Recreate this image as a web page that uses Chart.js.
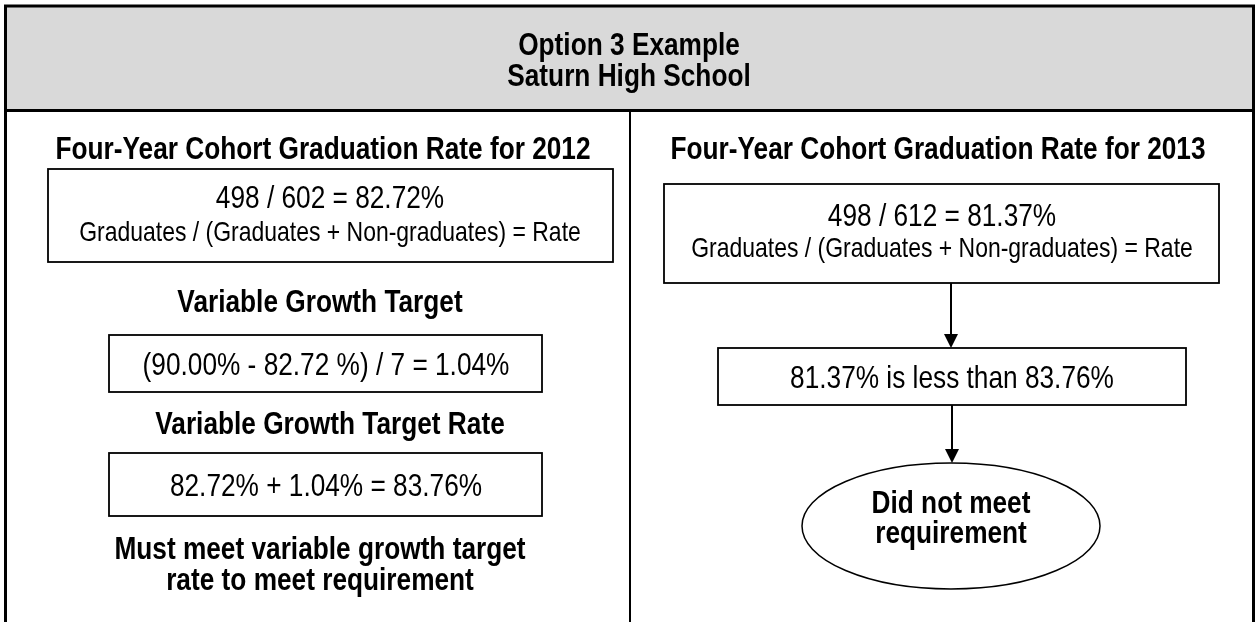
<!DOCTYPE html>
<html lang="en">
<head>
<meta charset="UTF-8">
<title>Option 3 Example</title>
<script src="https://cdn.jsdelivr.net/npm/chart.js"></script>
<style>
  html, body { margin: 0; padding: 0; background: #fff; }
  #wrap { width: 1255px; height: 622px; }
</style>
</head>
<body>
<div id="wrap"><canvas id="diagram" width="1255" height="622"></canvas></div>
<script>
// texts of the diagram
const titleLines = ['Option 3 Example', 'Saturn High School'];
const leftHeadings = ['Four-Year Cohort Graduation Rate for 2012', 'Variable Growth Target', 'Variable Growth Target Rate'];
const leftFormulas = ['498 / 602 = 82.72%', '(90.00% - 82.72 %) / 7 = 1.04%', '82.72% + 1.04% = 83.76%'];
const formulaCaption = 'Graduates / (Graduates + Non-graduates) = Rate';
const leftNote = ['Must meet variable growth target', 'rate to meet requirement'];
const rightHeading = 'Four-Year Cohort Graduation Rate for 2013';
const rightFormulas = ['498 / 612 = 81.37%', '81.37% is less than 83.76%'];
const outcome = ['Did not meet', 'requirement'];

// styles of text (narrow face made by squeezing Liberation Sans)
const FONT = "'Liberation Sans', Arial, sans-serif";
const styles = {
  heading: { font: 'bold 32px ' + FONT, sx: 0.82 },
  formula: { font: '32px ' + FONT, sx: 0.82 },
  caption: { font: '28px ' + FONT, sx: 0.82 }
};

// layout, in diagram units (the scales run 0..1255 and 0..622)
const layout = {
  header: { x1: 4, y1: 5, x2: 1255, y2: 111 },
  divider: 630,
  titleX: 629, titleY: [55, 86],
  box1: { x1: 48, y1: 169, x2: 613, y2: 262 },
  box2: { x1: 109, y1: 335, x2: 542, y2: 392 },
  box3: { x1: 109, y1: 453, x2: 542, y2: 516 },
  boxA: { x1: 664, y1: 184, x2: 1219, y2: 283 },
  boxB: { x1: 718, y1: 348, x2: 1186, y2: 405 },
  ellipse: { cx: 951, cy: 526, rx: 149, ry: 63 }
};

function buildItems() {
  const L = layout;
  const texts = [];
  titleLines.forEach((t, i) => texts.push({ t, x: L.titleX, y: L.titleY[i], s: 'heading' }));
  texts.push({ t: leftHeadings[0], x: 323, y: 159, s: 'heading' });
  texts.push({ t: leftFormulas[0], x: 330, y: 208, s: 'formula' });
  texts.push({ t: formulaCaption, x: 330, y: 241, s: 'caption' });
  texts.push({ t: leftHeadings[1], x: 320, y: 312, s: 'heading' });
  texts.push({ t: leftFormulas[1], x: 326, y: 375, s: 'formula' });
  texts.push({ t: leftHeadings[2], x: 330, y: 434, s: 'heading' });
  texts.push({ t: leftFormulas[2], x: 326, y: 496, s: 'formula' });
  leftNote.forEach((t, i) => texts.push({ t, x: 320, y: 559 + i * 31, s: 'heading' }));
  texts.push({ t: rightHeading, x: 938, y: 159, s: 'heading' });
  texts.push({ t: rightFormulas[0], x: 942, y: 226, s: 'formula' });
  texts.push({ t: formulaCaption, x: 942, y: 257, s: 'caption' });
  texts.push({ t: rightFormulas[1], x: 952, y: 388, s: 'formula' });
  outcome.forEach((t, i) => texts.push({ t, x: 951, y: 513 + i * 30, s: 'heading' }));
  return texts;
}

const diagramPlugin = {
  id: 'diagram',
  afterDraw(chart) {
    const ctx = chart.ctx;
    const xs = chart.scales.x, ys = chart.scales.y;
    const px = v => xs.getPixelForValue(v);
    const py = v => ys.getPixelForValue(v);
    const L = layout;
    ctx.save();

    // header band
    const h = L.header;
    ctx.fillStyle = '#d9d9d9';
    ctx.fillRect(px(h.x1), py(h.y1), px(h.x2) - px(h.x1), py(h.y2) - py(h.y1));

    // frame (open at the bottom)
    ctx.strokeStyle = '#000';
    ctx.lineWidth = 3;
    ctx.beginPath();
    ctx.moveTo(px(5.5), py(622));
    ctx.lineTo(px(5.5), py(6));
    ctx.lineTo(px(1253.5), py(6));
    ctx.lineTo(px(1253.5), py(622));
    ctx.stroke();
    ctx.beginPath();
    ctx.moveTo(px(4), py(110.5));
    ctx.lineTo(px(1255), py(110.5));
    ctx.stroke();

    // column divider
    ctx.lineWidth = 2;
    ctx.beginPath();
    ctx.moveTo(px(L.divider), py(111));
    ctx.lineTo(px(L.divider), py(622));
    ctx.stroke();

    // boxes
    ctx.lineWidth = 1.8;
    ['box1', 'box2', 'box3', 'boxA', 'boxB'].forEach(k => {
      const b = L[k];
      ctx.strokeRect(px(b.x1), py(b.y1), px(b.x2) - px(b.x1), py(b.y2) - py(b.y1));
    });

    // ellipse
    const e = L.ellipse;
    ctx.lineWidth = 1.5;
    ctx.beginPath();
    ctx.ellipse(px(e.cx), py(e.cy), px(e.cx + e.rx) - px(e.cx), py(e.cy + e.ry) - py(e.cy), 0, 0, Math.PI * 2);
    ctx.stroke();

    // arrows
    function arrow(x, y1, y2) {
      const head = 14, half = 7;
      ctx.lineWidth = 2;
      ctx.beginPath();
      ctx.moveTo(px(x), py(y1));
      ctx.lineTo(px(x), py(y2 - head));
      ctx.stroke();
      ctx.fillStyle = '#000';
      ctx.beginPath();
      ctx.moveTo(px(x - half), py(y2 - head));
      ctx.lineTo(px(x + half), py(y2 - head));
      ctx.lineTo(px(x), py(y2));
      ctx.closePath();
      ctx.fill();
    }
    arrow(951, L.boxA.y2, L.boxB.y1);
    arrow(952, L.boxB.y2, L.ellipse.cy - L.ellipse.ry);

    // texts
    ctx.fillStyle = '#000';
    ctx.textAlign = 'center';
    ctx.textBaseline = 'alphabetic';
    buildItems().forEach(it => {
      const st = styles[it.s];
      ctx.save();
      ctx.font = st.font;
      ctx.translate(px(it.x), py(it.y));
      ctx.scale(st.sx, 1);
      ctx.fillText(it.t, 0, 0);
      ctx.restore();
    });

    ctx.restore();
  }
};

new Chart(document.getElementById('diagram'), {
  type: 'scatter',
  data: { datasets: [{ data: [] }] },
  options: {
    responsive: false,
    animation: false,
    events: [],
    layout: { padding: 0 },
    plugins: { legend: { display: false }, tooltip: { enabled: false } },
    scales: {
      x: { type: 'linear', min: 0, max: 1255, display: false },
      y: { type: 'linear', min: 0, max: 622, reverse: true, display: false }
    }
  },
  plugins: [diagramPlugin]
});
</script>
</body>
</html>
